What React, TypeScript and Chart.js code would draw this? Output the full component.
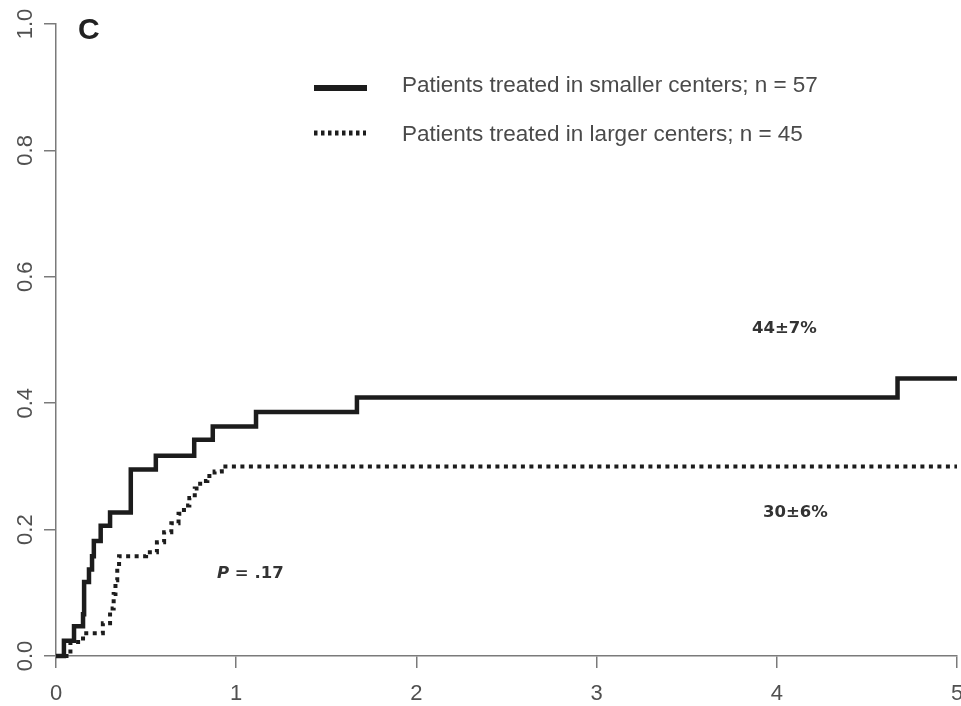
import React, { useEffect, useRef } from "react";
import { Chart, registerables } from "chart.js";

Chart.register(...registerables);

// Cumulative incidence step data (time in years, cumulative proportion)
const smallerTimes = [0, 0.044, 0.1, 0.15, 0.156, 0.183, 0.2, 0.21, 0.248, 0.3, 0.415, 0.554, 0.767, 0.87, 1.11, 1.67, 4.67, 5.0];
const smallerRisk = [0, 0.024, 0.047, 0.066, 0.117, 0.137, 0.158, 0.182, 0.206, 0.227, 0.295, 0.317, 0.342, 0.363, 0.386, 0.409, 0.439, 0.439];

const largerTimes = [0, 0.08, 0.15, 0.26, 0.3, 0.32, 0.33, 0.34, 0.35, 0.5, 0.56, 0.6, 0.64, 0.68, 0.71, 0.74, 0.77, 0.8, 0.84, 0.88, 0.92, 5.0];
const largerRisk = [0, 0.022, 0.036, 0.052, 0.075, 0.098, 0.12, 0.14, 0.158, 0.164, 0.18, 0.196, 0.21, 0.225, 0.238, 0.25, 0.265, 0.277, 0.285, 0.292, 0.3, 0.3];

const seriesLabels = [
  "Patients treated in smaller centers; n = 57",
  "Patients treated in larger centers; n = 45",
];
const panelLabel = "C";
const endLabels = ["44±7%", "30±6%"];
const pLabelItalic = "P";
const pLabelRest = " = .17";

const AXIS_COLOR = "#7a7a7a";
const TICK_TEXT = "#505050";
const LINE_COLOR = "#1c1c1c";

const overlayPlugin = {
  id: "overlay",
  afterDraw(chart: any) {
    const ctx = chart.ctx as CanvasRenderingContext2D;
    ctx.save();
    // Panel label
    ctx.fillStyle = "#222";
    ctx.font = "bold 30px 'Liberation Sans', Arial, sans-serif";
    ctx.textBaseline = "alphabetic";
    ctx.textAlign = "left";
    ctx.fillText(panelLabel, 78, 39);

    // Legend samples
    ctx.strokeStyle = LINE_COLOR;
    ctx.lineWidth = 6;
    ctx.setLineDash([]);
    ctx.beginPath();
    ctx.moveTo(314, 88);
    ctx.lineTo(367, 88);
    ctx.stroke();

    ctx.lineWidth = 5;
    ctx.setLineDash([3.5, 3.5]);
    ctx.beginPath();
    ctx.moveTo(314, 133);
    ctx.lineTo(366, 133);
    ctx.stroke();
    ctx.setLineDash([]);

    ctx.fillStyle = "#4a4a4a";
    ctx.font = "22.5px 'Liberation Sans', Arial, sans-serif";
    ctx.fillText(seriesLabels[0], 402, 92);
    ctx.fillText(seriesLabels[1], 402, 141);

    // End labels
    ctx.fillStyle = "#333";
    ctx.font = "bold 16.5px 'DejaVu Sans', sans-serif";
    ctx.fillText(endLabels[0], 752, 333);
    ctx.fillText(endLabels[1], 763, 517);

    // P value
    ctx.font = "italic bold 16.5px 'DejaVu Sans', sans-serif";
    ctx.fillText(pLabelItalic, 217, 578);
    const w = ctx.measureText(pLabelItalic).width;
    ctx.font = "bold 16.5px 'DejaVu Sans', sans-serif";
    ctx.fillText(pLabelRest, 217 + w, 578);
    ctx.restore();
  },
};

function toPoints(times: number[], risk: number[]) {
  return times.map((t, i) => ({ x: t, y: risk[i] }));
}

export default function App() {
  const canvasRef = useRef<HTMLCanvasElement | null>(null);

  useEffect(() => {
    if (!canvasRef.current) return;
    const chart = new Chart(canvasRef.current, {
      type: "line",
      data: {
        datasets: [
          {
            label: seriesLabels[0],
            data: toPoints(smallerTimes, smallerRisk),
            stepped: "before",
            borderColor: LINE_COLOR,
            borderWidth: 4.5,
            pointRadius: 0,
            fill: false,
            clip: false,
          } as any,
          {
            label: seriesLabels[1],
            data: toPoints(largerTimes, largerRisk),
            stepped: "before",
            borderColor: LINE_COLOR,
            borderWidth: 4,
            borderDash: [4, 4.5],
            pointRadius: 0,
            fill: false,
            clip: false,
          } as any,
        ],
      },
      options: {
        animation: false,
        responsive: true,
        maintainAspectRatio: false,
        devicePixelRatio: 1,
        layout: { padding: { top: 24, right: 4, left: 0, bottom: 0 } },
        plugins: {
          legend: { display: false },
          tooltip: { enabled: false },
          title: { display: false },
        },
        scales: {
          x: {
            type: "linear",
            min: 0,
            max: 5,
            ticks: {
              stepSize: 1,
              color: TICK_TEXT,
              padding: 13,
              font: { family: "'Liberation Sans', Arial, sans-serif", size: 22 },
            },
            grid: {
              display: true,
              drawOnChartArea: false,
              drawTicks: true,
              tickLength: 12,
              color: AXIS_COLOR,
              lineWidth: 1.5,
            },
            border: { display: true, color: AXIS_COLOR, width: 1.5 },
            afterFit: (scale: any) => {
              scale.height = 50;
              scale.paddingLeft = 0;
              scale.paddingRight = 0;
            },
          },
          y: {
            type: "linear",
            min: 0,
            max: 1,
            ticks: {
              stepSize: 0.2,
              color: TICK_TEXT,
              padding: 3,
              minRotation: 90,
              maxRotation: 90,
              crossAlign: "center",
              font: { family: "'Liberation Sans', Arial, sans-serif", size: 22 },
              callback: (v: any) => Number(v).toFixed(1),
            },
            grid: {
              display: true,
              drawOnChartArea: false,
              drawTicks: true,
              tickLength: 12,
              color: AXIS_COLOR,
              lineWidth: 1.5,
            },
            border: { display: true, color: AXIS_COLOR, width: 1.5 },
            afterFit: (scale: any) => {
              scale.width = 56;
              scale.paddingTop = 0;
              scale.paddingBottom = 0;
            },
          },
        },
      },
      plugins: [overlayPlugin],
    });
    return () => chart.destroy();
  }, []);

  return (
    <div style={{ position: "absolute", left: 0, top: 0, width: 961, height: 706, background: "#fff" }}>
      <canvas ref={canvasRef} />
    </div>
  );
}
